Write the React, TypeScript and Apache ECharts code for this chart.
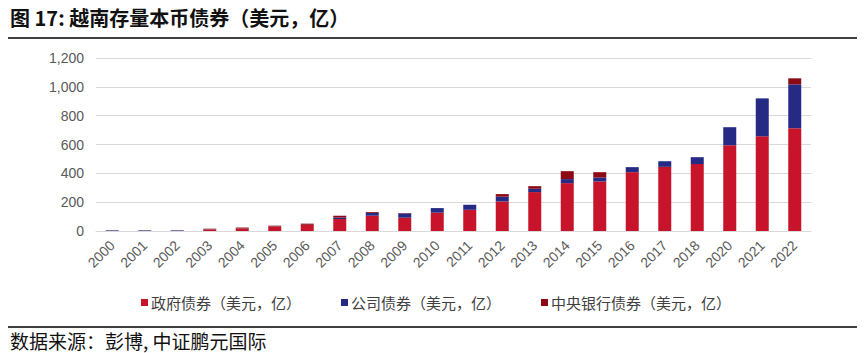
import React, { useEffect, useRef } from "react";
import * as echarts from "echarts";

const years = ["2000","2001","2002","2003","2004","2005","2006","2007","2008","2009","2010","2011","2012","2013","2014","2015","2016","2017","2018","2020","2021","2022"];
const govBonds = [0,0,0,10,16,30,42,83,106,92,127,147,205,270,332,344,408,445,464,595,657,713];
const corpBonds = [4,4,4,1,1,1,1,10,19,30,32,35,33,23,28,27,35,39,48,125,263,304];
const cbBonds = [1,1,1,5,7,6,8,13,6,3,0,0,18,18,55,37,0,0,0,0,0,42];
const yTicks = { min: 0, max: 1200, interval: 200 };

const seriesNames = ["政府债券（美元，亿）", "公司债券（美元，亿）", "中央银行债券（美元，亿）"];
const colors = ["#C8142A", "#252B85", "#8C0A16"];

export default function App() {
  const ref = useRef<HTMLDivElement>(null);
  useEffect(() => {
    if (!ref.current) return;
    const chart = echarts.init(ref.current, null, { renderer: "svg" });
    const font = "'Liberation Sans', 'Noto Sans CJK SC', sans-serif";
    const dataSets = [govBonds, corpBonds, cbBonds];
    chart.setOption({
      animation: false,
      backgroundColor: "#ffffff",
      textStyle: { fontFamily: font },
      grid: { left: 96, right: 54, top: 58, bottom: 122, containLabel: false },
      legend: {
        left: 136,
        top: 290,
        itemWidth: 7,
        itemHeight: 7,
        itemGap: 40,
        icon: "rect",
        textStyle: { fontSize: 15, color: "#404040", fontFamily: "'Noto Sans CJK SC', sans-serif", padding: [0, 0, 0, -2] },
        data: seriesNames,
      },
      xAxis: {
        type: "category",
        data: years,
        axisLine: { lineStyle: { color: "#d9d9d9" } },
        axisTick: { show: false },
        axisLabel: { rotate: 45, fontSize: 14, color: "#595959", margin: 12, interval: 0 },
      },
      yAxis: {
        type: "value",
        min: yTicks.min,
        max: yTicks.max,
        interval: yTicks.interval,
        axisLine: { show: false },
        axisTick: { show: false },
        splitLine: { lineStyle: { color: "#d9d9d9" } },
        axisLabel: {
          fontSize: 14,
          color: "#595959",
          margin: 12,
          formatter: (v: number) => v.toLocaleString("en-US"),
        },
      },
      series: seriesNames.map((name, i) => ({
        name,
        type: "bar",
        stack: "total",
        barWidth: "40%",
        itemStyle: { color: colors[i] },
        data: dataSets[i],
      })),
      graphic: [
        {
          type: "text",
          left: 10,
          top: 7,
          style: { text: "图 17: 越南存量本币债券（美元，亿）", fontSize: 20, fontWeight: "bold", fill: "#111", fontFamily: "'Noto Sans CJK SC', sans-serif" },
        },
        {
          type: "line",
          shape: { x1: 8, y1: 38, x2: 857, y2: 38 },
          style: { stroke: "#000", lineWidth: 1.3 },
        },
        {
          type: "line",
          shape: { x1: 8, y1: 327, x2: 857, y2: 327 },
          style: { stroke: "#000", lineWidth: 1.3 },
        },
        {
          type: "text",
          left: 10,
          top: 331,
          style: { text: "数据来源：彭博, 中证鹏元国际", fontSize: 19, fill: "#111", fontFamily: "'Noto Sans CJK SC', sans-serif" },
        },
      ],
    });
    return () => chart.dispose();
  }, []);
  return <div ref={ref} style={{ position: "fixed", left: 0, top: 0, width: 865, height: 353 }} />;
}
